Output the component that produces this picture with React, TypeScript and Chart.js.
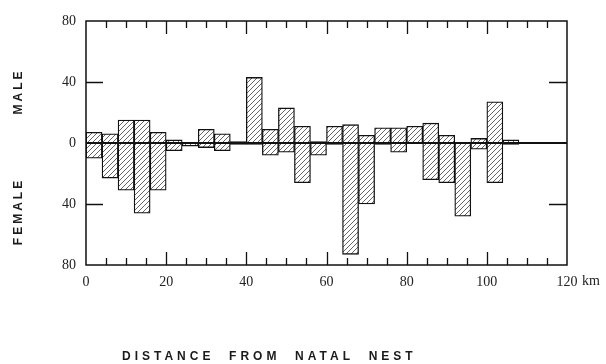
import React, { useEffect, useRef } from 'react';
import { Chart, registerables } from 'chart.js';

Chart.register(...registerables);

// Distance bins (km), 4 km wide, given by their centres
const binCenters = [2, 6, 10, 14, 18, 22, 26, 30, 34, 38, 42, 46, 50, 54, 58, 62, 66, 70, 74, 78, 82, 86, 90, 94, 98, 102, 106];
// Male counts (drawn upward)
const maleCounts = [7, 6, 15, 15, 7, 2, 0, 9, 6, 1, 43, 9, 23, 11, 1, 11, 12, 5, 10, 10, 11, 13, 5, 0, 3, 27, 2];
// Female counts (drawn downward)
const femaleCounts = [10, 23, 31, 46, 31, 5, 2, 3, 5, 1, 1, 8, 6, 26, 8, 1, 73, 40, 1, 6, 0, 24, 26, 48, 4, 26, 1];

const xTickValues = [0, 20, 40, 60, 80, 100, 120];
const yTickValues = [-80, -40, 0, 40, 80];
const xUnit = 'km';
const maleLabel = 'MALE';
const femaleLabel = 'FEMALE';
const xTitle = 'DISTANCE  FROM  NATAL  NEST';

function makeHatch(): CanvasPattern | string {
  const c = document.createElement('canvas');
  c.width = 5;
  c.height = 5;
  const g = c.getContext('2d');
  if (!g) return '#ccc';
  g.fillStyle = '#ffffff';
  g.fillRect(0, 0, 5, 5);
  g.strokeStyle = '#666';
  g.lineWidth = 1;
  g.beginPath();
  g.moveTo(-1, 6);
  g.lineTo(6, -1);
  g.moveTo(-1, 1);
  g.lineTo(1, -1);
  g.moveTo(4, 6);
  g.lineTo(6, 4);
  g.stroke();
  return g.createPattern(c, 'repeat') || '#ccc';
}

const framePlugin = {
  id: 'frameAndTitles',
  afterDatasetsDraw(chart: any) {
    const { ctx, chartArea: a, scales } = chart;
    const x = scales.x;
    const y = scales.y;
    ctx.save();
    ctx.strokeStyle = '#111';
    // zero line
    const y0 = y.getPixelForValue(0);
    ctx.lineWidth = 2.2;
    ctx.beginPath();
    ctx.moveTo(a.left, y0);
    ctx.lineTo(a.right, y0);
    ctx.stroke();
    // frame
    ctx.lineWidth = 1.5;
    ctx.strokeRect(a.left, a.top, a.right - a.left, a.bottom - a.top);
    // inward ticks on top and bottom
    ctx.lineWidth = 1.3;
    ctx.beginPath();
    for (let v = 5; v < 120; v += 5) {
      const px = Math.round(x.getPixelForValue(v)) + 0.5;
      const len = v % 20 === 0 ? 13 : 7;
      ctx.moveTo(px, a.top);
      ctx.lineTo(px, a.top + len);
      ctx.moveTo(px, a.bottom);
      ctx.lineTo(px, a.bottom - len);
    }
    // inward ticks left and right at +/-40
    [-40, 40].forEach((v) => {
      const py = Math.round(y.getPixelForValue(v)) + 0.5;
      ctx.moveTo(a.left, py);
      ctx.lineTo(a.left + 17, py);
      ctx.moveTo(a.right, py);
      ctx.lineTo(a.right - 18, py);
    });
    ctx.stroke();
    ctx.restore();
  },
  afterDraw(chart: any) {
    const { ctx, scales } = chart;
    const x = scales.x;
    ctx.save();
    // unit after last tick label
    ctx.fillStyle = '#222';
    ctx.font = '14px "Liberation Serif", serif';
    ctx.textAlign = 'left';
    ctx.textBaseline = 'middle';
    ctx.fillText(xUnit, x.getPixelForValue(120) + 15, 281);

    // axis side titles
    ctx.font = 'bold 12px "Liberation Sans", Arial, sans-serif';
    (ctx as any).letterSpacing = '3px';
    ctx.textAlign = 'center';
    ctx.textBaseline = 'middle';
    ctx.fillStyle = '#1a1a1a';
    const side = (text: string, cx: number, cy: number) => {
      ctx.save();
      ctx.translate(cx, cy);
      ctx.rotate(-Math.PI / 2);
      ctx.fillText(text, 1.5, 0);
      ctx.restore();
    };
    side(maleLabel, 19, 93);
    side(femaleLabel, 19, 213);

    // bottom title
    ctx.font = 'bold 12px "Liberation Sans", Arial, sans-serif';
    (ctx as any).letterSpacing = '4px';
    ctx.textAlign = 'left';
    ctx.fillText(xTitle, 122, 357);
    ctx.restore();
  },
};

export default function App() {
  const ref = useRef<HTMLCanvasElement | null>(null);

  useEffect(() => {
    document.body.style.margin = '0';
    const canvas = ref.current;
    if (!canvas) return;
    const hatch = makeHatch();
    const chart = new Chart(canvas, {
      type: 'bar',
      data: {
        datasets: [
          {
            label: maleLabel,
            data: binCenters.map((c, i) => ({ x: c, y: maleCounts[i] })),
            backgroundColor: hatch as any,
            borderColor: '#111',
            borderWidth: 1.3,
            borderSkipped: false,
            barPercentage: 1,
            categoryPercentage: 1,
            grouped: false,
          },
          {
            label: femaleLabel,
            data: binCenters.map((c, i) => ({ x: c, y: -femaleCounts[i] })),
            backgroundColor: hatch as any,
            borderColor: '#111',
            borderWidth: 1.3,
            borderSkipped: false,
            barPercentage: 1,
            categoryPercentage: 1,
            grouped: false,
          },
        ],
      },
      options: {
        animation: false,
        responsive: false,
        maintainAspectRatio: false,
        layout: { autoPadding: false, padding: { left: 0, top: 21, right: 39, bottom: 0 } },
        plugins: {
          legend: { display: false },
          tooltip: { enabled: false },
          title: { display: false },
        },
        scales: {
          x: {
            type: 'linear',
            min: 0,
            max: 120,
            offset: false,
            grid: { display: false, drawTicks: false },
            border: { display: false },
            afterBuildTicks: (s: any) => {
              s.ticks = xTickValues.map((v) => ({ value: v }));
            },
            afterFit: (s: any) => {
              s.height = 99;
            },
            ticks: {
              padding: 9,
              color: '#222',
              font: { family: '"Liberation Serif", serif', size: 14 },
              maxRotation: 0,
              autoSkip: false,
            },
          },
          y: {
            min: -80,
            max: 80,
            grid: { display: false, drawTicks: false },
            border: { display: false },
            afterBuildTicks: (s: any) => {
              s.ticks = yTickValues.map((v) => ({ value: v }));
            },
            afterFit: (s: any) => {
              s.width = 86;
            },
            ticks: {
              padding: 10,
              color: '#222',
              font: { family: '"Liberation Serif", serif', size: 14 },
              callback: (v: any) => String(Math.abs(Number(v))),
            },
          },
        },
      },
      plugins: [framePlugin],
    });
    return () => chart.destroy();
  }, []);

  return (
    <div style={{ width: 606, height: 364, background: '#fff' }}>
      <canvas ref={ref} width={606} height={364} style={{ display: 'block' }} />
    </div>
  );
}
